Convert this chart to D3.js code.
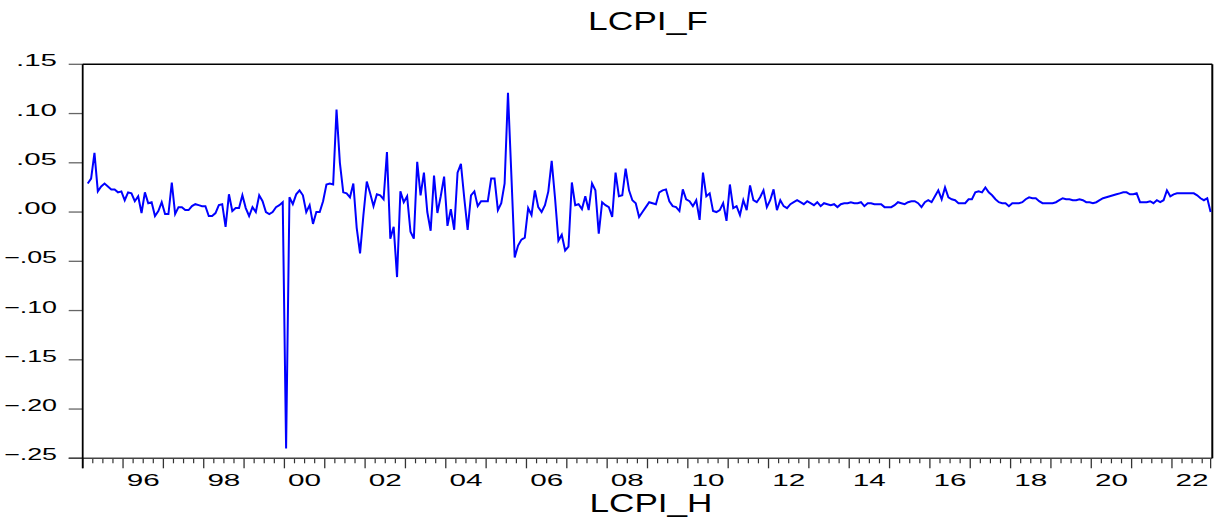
<!DOCTYPE html>
<html lang="en">
  <head>
    <meta charset="UTF-8" />
    <title>LCPI_F</title>
    <script src="https://d3js.org/d3.v7.min.js"></script>
    <style>
      body { margin: 0; background: #fff; }
      text { font-family: "Liberation Sans", Arial, sans-serif; fill: #000; }
    </style>
  </head>
  <body>
    <script>
      // monthly series, first obs 1995m2 (index 1, 1995m1 = index 0)
      const firstIndex = 1;
      const lcpiF = [
        0.029, 0.034, 0.060, 0.021, 0.026, 0.029, 0.026, 0.023, 0.023, 0.020, 0.021,        // 1995 (Feb-Dec)
        0.012, 0.020, 0.019, 0.011, 0.016, -0.001, 0.020, 0.009, 0.010, -0.004, 0.001, 0.010, // 1996
        -0.002, -0.002, 0.030, -0.002, 0.005, 0.005, 0.002, 0.002, 0.006, 0.008, 0.007, 0.006, // 1997
        0.006, -0.004, -0.004, -0.001, 0.007, 0.008, -0.015, 0.018, 0.001, 0.004, 0.004, 0.017, // 1998
        0.004, -0.004, 0.005, 0.000, 0.017, 0.011, 0.000, -0.002, 0.000, 0.005, 0.007, 0.010,  // 1999
        -0.240, 0.015, 0.008, 0.018, 0.022, 0.017, 0.000, 0.007, -0.012, 0.000, 0.000, 0.011,  // 2000
        0.028, 0.029, 0.028, 0.104, 0.050, 0.020, 0.019, 0.015, 0.029, -0.016, -0.042, -0.003, // 2001
        0.031, 0.019, 0.006, 0.018, 0.017, 0.013, 0.061, -0.027, -0.015, -0.066, 0.021, 0.010, // 2002
        0.016, -0.020, -0.027, 0.051, 0.017, 0.040, 0.000, -0.019, 0.037, -0.001, 0.016, 0.036, // 2003
        -0.014, 0.003, -0.018, 0.040, 0.049, 0.014, -0.018, 0.017, 0.021, 0.006, 0.011, 0.011, // 2004
        0.011, 0.034, 0.034, 0.002, 0.009, 0.029, 0.121, 0.038, -0.046, -0.034, -0.028, -0.026, // 2005
        0.004, -0.003, 0.022, 0.005, 0.000, 0.007, 0.021, 0.052, 0.014, -0.029, -0.023, -0.039, // 2006
        -0.035, 0.030, 0.007, 0.008, 0.003, 0.016, 0.002, 0.029, 0.022, -0.022, 0.010, 0.007,  // 2007
        0.005, -0.005, 0.040, 0.016, 0.017, 0.044, 0.022, 0.012, 0.009, -0.005, 0.000, 0.005,  // 2008
        0.010, 0.009, 0.008, 0.020, 0.022, 0.023, 0.011, 0.006, 0.005, 0.001, 0.023, 0.013,    // 2009
        0.011, 0.006, 0.012, -0.008, 0.040, 0.016, 0.019, 0.001, 0.000, 0.002, 0.009, -0.009,  // 2010
        0.028, 0.004, 0.006, -0.003, 0.012, 0.002, 0.027, 0.012, 0.010, 0.015, 0.022, 0.005,   // 2011
        0.012, 0.023, 0.002, 0.012, 0.006, 0.004, 0.008, 0.010, 0.012, 0.010, 0.008, 0.011,    // 2012
        0.009, 0.007, 0.010, 0.006, 0.009, 0.008, 0.007, 0.008, 0.005, 0.008, 0.009, 0.009,    // 2013
        0.010, 0.009, 0.009, 0.010, 0.006, 0.009, 0.009, 0.008, 0.008, 0.008, 0.005, 0.005,    // 2014
        0.005, 0.007, 0.010, 0.009, 0.008, 0.010, 0.011, 0.011, 0.009, 0.005, 0.010, 0.012,    // 2015
        0.010, 0.016, 0.022, 0.013, 0.025, 0.015, 0.013, 0.012, 0.009, 0.009, 0.009, 0.013,    // 2016
        0.013, 0.020, 0.021, 0.020, 0.025, 0.020, 0.017, 0.013, 0.010, 0.009, 0.009, 0.006,    // 2017
        0.009, 0.009, 0.009, 0.010, 0.013, 0.015, 0.014, 0.014, 0.011, 0.009, 0.009, 0.009,    // 2018
        0.009, 0.010, 0.012, 0.014, 0.013, 0.013, 0.012, 0.012, 0.013, 0.012, 0.010, 0.010,    // 2019
        0.009, 0.010, 0.012, 0.014, 0.015, 0.016, 0.017, 0.018, 0.019, 0.020, 0.020, 0.018,    // 2020
        0.018, 0.019, 0.010, 0.010, 0.010, 0.011, 0.009, 0.012, 0.010, 0.012, 0.022, 0.016,    // 2021
        0.018, 0.019, 0.019, 0.019, 0.019, 0.019, 0.019, 0.017, 0.014, 0.012, 0.014, 0.000     // 2022
      ];
      const yTicks = [-0.25, -0.20, -0.15, -0.10, -0.05, 0.00, 0.05, 0.10, 0.15];
      const yearLabels = ["96", "98", "00", "02", "04", "06", "08", "10", "12", "14", "16", "18", "20", "22"];
      const firstYear = 1995, lastYear = 2022;

      const width = 1225, height = 523;
      const plotL = 82.7, plotR = 1212.3, plotT = 64.3, plotB = 458.3;

      const svg = d3.select("body").append("svg")
        .attr("width", width)
        .attr("height", height);

      const nMonths = (lastYear - firstYear + 1) * 12;
      const x = d3.scaleLinear().domain([0, nMonths]).range([plotL, plotR]);
      const y = d3.scaleLinear().domain([-0.25, 0.15]).range([plotB, plotT]);

      // y axis ticks + labels
      const fmt = d => d3.format(".2f")(d).replace("0.", ".");
      svg.selectAll(".ytick")
        .data(yTicks)
        .enter()
        .append("line")
        .attr("x1", plotL - 14).attr("x2", plotL)
        .attr("y1", d => y(d)).attr("y2", d => y(d))
        .attr("stroke", "#666").attr("stroke-width", 1.3);

      svg.selectAll(".ylab")
        .data(yTicks)
        .enter()
        .append("text")
        .attr("x", 57)
        .attr("y", d => y(d) + 2)
        .attr("text-anchor", "end")
        .attr("font-size", 16)
        .attr("textLength", d => d < 0 ? 53 : 41)
        .attr("lengthAdjust", "spacingAndGlyphs")
        .text(fmt);

      // x axis: year ticks, quarter ticks
      const years = d3.range(firstYear, lastYear + 1);
      const quarters = d3.range(0, nMonths + 1, 3).filter(m => m % 12 !== 0);

      svg.selectAll(".qtick")
        .data(quarters)
        .enter()
        .append("line")
        .attr("x1", d => x(d)).attr("x2", d => x(d))
        .attr("y1", plotB).attr("y2", plotB + 5)
        .attr("stroke", "#333").attr("stroke-width", 1.2);

      svg.selectAll(".yrtick")
        .data(years.map(yr => (yr - firstYear) * 12).concat([nMonths - 0.5]))
        .enter()
        .append("line")
        .attr("x1", d => x(d)).attr("x2", d => x(d))
        .attr("y1", plotB).attr("y2", plotB + 10)
        .attr("stroke", "#333").attr("stroke-width", 1.3);

      svg.selectAll(".xlab")
        .data(yearLabels)
        .enter()
        .append("text")
        .attr("x", (d, i) => x((1 + 2 * i) * 12 + 6))
        .attr("y", 486)
        .attr("text-anchor", "middle")
        .attr("font-size", 17)
        .attr("textLength", 33)
        .attr("lengthAdjust", "spacingAndGlyphs")
        .text(d => d);

      // frame
      svg.append("line")
        .attr("x1", plotL - 14).attr("x2", plotR)
        .attr("y1", plotB).attr("y2", plotB)
        .attr("stroke", "#444").attr("stroke-width", 1.5);
      svg.append("line")
        .attr("x1", plotL).attr("x2", plotR)
        .attr("y1", plotT).attr("y2", plotT)
        .attr("stroke", "#000").attr("stroke-width", 1.5);
      svg.append("line")
        .attr("x1", plotL).attr("x2", plotL)
        .attr("y1", plotT).attr("y2", plotB + 10)
        .attr("stroke", "#000").attr("stroke-width", 1.8);
      svg.append("line")
        .attr("x1", plotR).attr("x2", plotR)
        .attr("y1", plotT).attr("y2", plotB)
        .attr("stroke", "#000").attr("stroke-width", 2);

      // series
      const line = d3.line()
        .x((d, i) => x(firstIndex + i + 0.5))
        .y(d => y(d));

      svg.append("path")
        .datum(lcpiF)
        .attr("fill", "none")
        .attr("stroke", "#0000ff")
        .attr("stroke-width", 2)
        .attr("stroke-linejoin", "miter")
        .attr("d", line);

      // titles
      svg.append("text")
        .attr("x", 648).attr("y", 30)
        .attr("text-anchor", "middle")
        .attr("font-size", 26)
        .attr("textLength", 120)
        .attr("lengthAdjust", "spacingAndGlyphs")
        .text("LCPI_F");

      svg.append("text")
        .attr("x", 651).attr("y", 512)
        .attr("text-anchor", "middle")
        .attr("font-size", 26)
        .attr("textLength", 123)
        .attr("lengthAdjust", "spacingAndGlyphs")
        .text("LCPI_H");
    </script>
  </body>
</html>
